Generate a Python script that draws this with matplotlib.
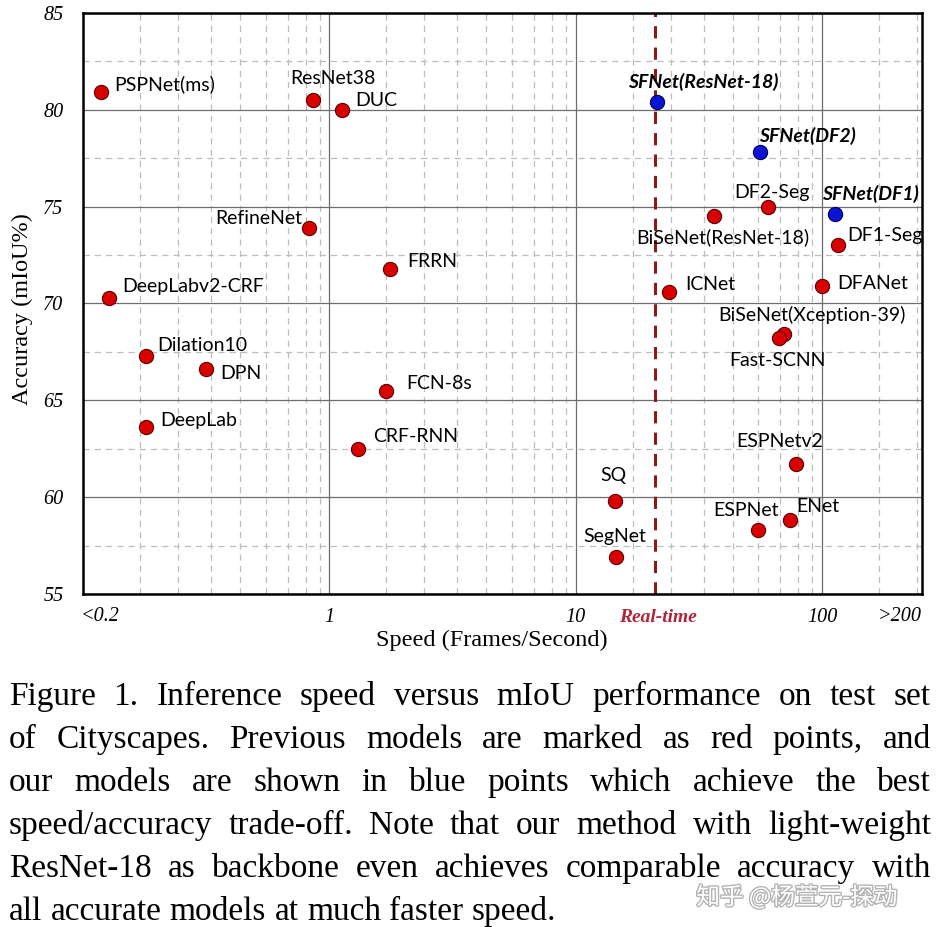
import matplotlib
matplotlib.use("Agg")
import matplotlib.pyplot as plt
import matplotlib.patheffects as pe
from matplotlib.ticker import FixedLocator, NullFormatter

# previous models (red points)
prev_names = ['PSPNet(ms)', 'ResNet38', 'DUC', 'RefineNet', 'FRRN', 'DeepLabv2-CRF',
              'Dilation10', 'DPN', 'DeepLab', 'FCN-8s', 'CRF-RNN',
              'DF2-Seg', 'BiSeNet(ResNet-18)', 'DF1-Seg', 'ICNet', 'DFANet',
              'BiSeNet(Xception-39)', 'Fast-SCNN', 'ESPNetv2', 'SQ', 'SegNet',
              'ESPNet', 'ENet']
prev_speed = [0.118, 0.854, 1.125, 0.825, 1.76, 0.127,
              0.181, 0.317, 0.181, 1.69, 1.31,
              60.4, 36.4, 116, 23.9, 100,
              70.2, 66.8, 78, 14.4, 14.5,
              55.1, 74]
prev_miou = [80.9, 80.5, 80.0, 73.9, 71.8, 70.3,
             67.3, 66.6, 63.6, 65.5, 62.5,
             75.0, 74.5, 73.0, 70.6, 70.9,
             68.4, 68.2, 61.7, 59.8, 56.9,
             58.3, 58.8]

# our models (blue points)
ours_names = ['SFNet(ResNet-18)', 'SFNet(DF2)', 'SFNet(DF1)']
ours_speed = [21.3, 56.0, 113]
ours_miou = [80.4, 77.8, 74.6]

real_time = 21

# label placement: (dx px, dy px, ha)
label_pos = {
    'PSPNet(ms)': (14, 8, 'left'), 'ResNet38': (20, 22, 'center'),
    'DUC': (13, 9, 'left'), 'RefineNet': (-7, 9, 'right'),
    'FRRN': (17, 7, 'left'), 'DeepLabv2-CRF': (14, 11, 'left'),
    'Dilation10': (11, 10, 'left'), 'DPN': (14, -4, 'left'),
    'DeepLab': (14, 7, 'left'), 'FCN-8s': (21, 7, 'left'),
    'CRF-RNN': (15, 12, 'left'), 'DF2-Seg': (4, 14, 'center'),
    'BiSeNet(ResNet-18)': (9, -21, 'center'), 'DF1-Seg': (9, 10, 'left'),
    'ICNet': (16, 7, 'left'), 'DFANet': (15, 3, 'left'),
    'BiSeNet(Xception-39)': (28, 20, 'center'), 'Fast-SCNN': (-2, -22, 'center'),
    'ESPNetv2': (-16, 23, 'center'), 'SQ': (-1, 26, 'center'),
    'SegNet': (-1, 21, 'center'), 'ESPNet': (-12, 20, 'center'),
    'ENet': (6, 14, 'left'),
    'SFNet(ResNet-18)': (47, 20, 'center'), 'SFNet(DF2)': (-1, 16, 'left'),
    'SFNet(DF1)': (35, 20, 'center'),
}

caption = [
    "Figure 1. Inference speed versus mIoU performance on test set",
    "of Cityscapes.  Previous models are marked as red points, and",
    "our models are shown in blue points which achieve the best",
    "speed/accuracy trade-off. Note that our method with light-weight",
    "ResNet-18 as backbone even achieves comparable accuracy with",
    "all accurate models at much faster speed.",
]

W, H = 939, 927
fig = plt.figure(figsize=(W / 100, H / 100), dpi=100)
ax = fig.add_axes([83 / W, 1 - 594 / H, 839 / W, 581 / H])

ax.set_xscale('log')
ax.set_xlim(0.1, 254)
ax.set_ylim(55, 85)

# grid
mult = [1.70, 2.43, 3.30, 4.33, 5.51, 6.76, 8.0, 9.12]
minor_x = [d * m for d in [0.1, 1, 10, 100] for m in mult]
ax.xaxis.set_major_locator(FixedLocator([1, 10, 100]))
ax.xaxis.set_minor_locator(FixedLocator(minor_x))
ax.xaxis.set_minor_formatter(NullFormatter())
ax.yaxis.set_major_locator(FixedLocator([55, 60, 65, 70, 75, 80, 85]))
ax.yaxis.set_minor_locator(FixedLocator([57.5, 62.5, 67.5, 72.5, 77.5, 82.5]))
ax.grid(True, which='major', color='#6e6e6e', lw=0.9)
ax.grid(True, which='minor', color='#bdbdbd', lw=0.9, ls=(0, (5, 4)))
ax.set_axisbelow(True)
ax.tick_params(which='both', length=0)
ax.tick_params(axis='y', pad=14)
ax.tick_params(axis='x', pad=10)
ax.set_xticklabels(['1', '10', '100'])
for lab in ax.get_xticklabels() + ax.get_yticklabels():
    lab.set_fontfamily('Liberation Serif')
    lab.set_fontstyle('italic')
    lab.set_fontsize(14.5)
for s in ax.spines.values():
    s.set_linewidth(1.8)
    s.set_color('black')

tr = ax.get_xaxis_transform()
ax.text(0.117, -0.038, '<0.2', transform=tr, ha='center', va='center',
        family='Liberation Serif', style='italic', fontsize=14.5)
ax.text(207, -0.038, '>200', transform=tr, ha='center', va='center',
        family='Liberation Serif', style='italic', fontsize=14.5)
ax.text(21.5, -0.04, 'Real-time', transform=tr, ha='center', va='center',
        family='Liberation Serif', style='italic', weight='bold',
        fontsize=14, color='#b0243a')

ax.axvline(real_time, color='#8b1a1a', lw=2.2, ls=(0, (4, 3)), zorder=2)

ax.scatter(prev_speed, prev_miou, s=105, c='#d90000', edgecolors='#5a0000',
           linewidths=0.8, zorder=3)
ax.scatter(ours_speed, ours_miou, s=105, c='#0a14d6', edgecolors='#000050',
           linewidths=0.8, zorder=3)

for n, x, y in zip(prev_names, prev_speed, prev_miou):
    dx, dy, ha = label_pos[n]
    ax.annotate(n, (x, y), xytext=(dx, dy), textcoords='offset pixels',
                ha=ha, va='center', family='Lato', fontsize=14, zorder=4)
for n, x, y in zip(ours_names, ours_speed, ours_miou):
    dx, dy, ha = label_pos[n]
    ax.annotate(n, (x, y), xytext=(dx, dy), textcoords='offset pixels',
                ha=ha, va='center', family='Lato', fontsize=14,
                weight='bold', style='italic', zorder=4)

ax.text((492 - 83) / 839, (594 - 640) / 581, 'Speed (Frames/Second)',
        transform=ax.transAxes, ha='center', va='center',
        family='Liberation Serif', fontsize=17.5)
ax.text(-0.072, 0.49, 'Accuracy (mIoU%)', transform=ax.transAxes, rotation=90,
        ha='center', va='center', family='Liberation Serif', fontsize=17.5)

# justified caption
r = fig.canvas.get_renderer()
x0, x1 = 9, 931
size = 24
for i, line in enumerate(caption):
    y = 1 - (705 + i * 43) / H
    words = line.split()
    texts = [fig.text(0, y, w, fontsize=size, family='Liberation Serif',
                      va='baseline') for w in words]
    widths = [t.get_window_extent(r).width for t in texts]
    if i == len(caption) - 1:
        gap = 0.25 * size * 100 / 72
    else:
        gap = (x1 - x0 - sum(widths)) / (len(words) - 1)
    x = x0
    for t, w in zip(texts, widths):
        t.set_x(x / W)
        x += w + gap

fig.text(797 / W, 1 - 897 / H, '知乎 @杨萱元-探动', ha='center', va='center',
         family='Noto Sans CJK SC', fontsize=17, color='white',
         path_effects=[pe.withStroke(linewidth=2, foreground='#b4b4b4')])

fig.savefig('out.png', dpi=100)
